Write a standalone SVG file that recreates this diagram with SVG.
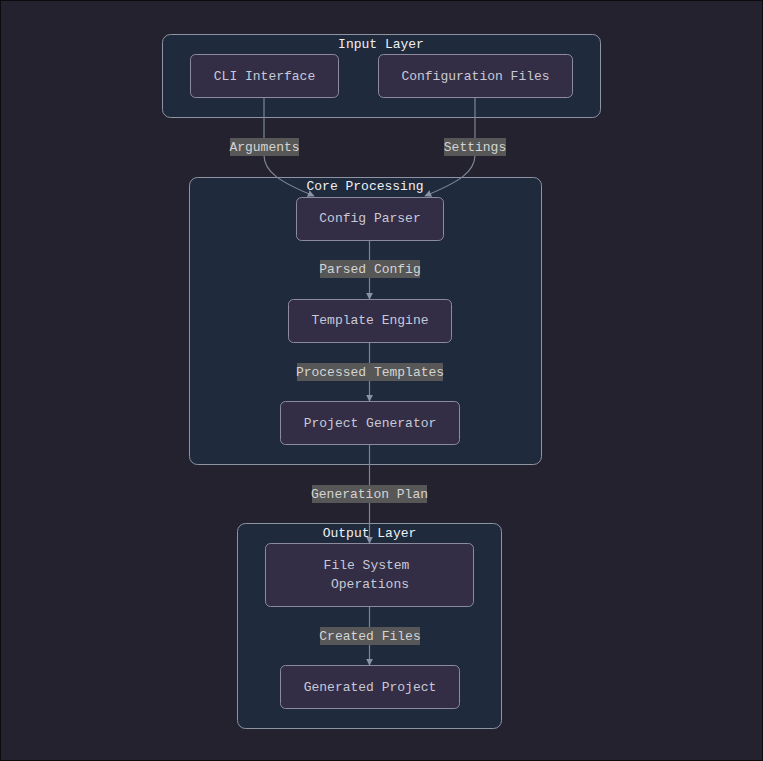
<svg xmlns="http://www.w3.org/2000/svg" width="763" height="761" viewBox="0 0 763 761">
<defs>
<marker id="arr" viewBox="0 0 10 10" refX="9" refY="5" markerWidth="7" markerHeight="7" markerUnits="userSpaceOnUse" orient="auto">
<path d="M0,0 L10,5 L0,10 z" fill="#8a93a8"/>
</marker>
<style>
.cluster{fill:#1f2a3c;stroke:#8e94a4;stroke-width:1}
.node{fill:#332e46;stroke:#8c8c9e;stroke-width:1}
.ctitle{font-family:"Liberation Mono","DejaVu Sans Mono",monospace;font-size:13px;fill:#f0f0f4;text-anchor:middle}
.ntext{font-family:"Liberation Mono","DejaVu Sans Mono",monospace;font-size:13px;fill:#c9c9d6;text-anchor:middle}
.edge{fill:none;stroke:#7c8598;stroke-width:1.2}
.lbg{fill:#575757}
.ltext{font-family:"Liberation Mono","DejaVu Sans Mono",monospace;font-size:13px;fill:#d4d4d4;text-anchor:middle}
</style>
</defs>
<rect x="0.5" y="0.5" width="762" height="760" fill="#25222f" stroke="#0c0c10" stroke-width="1"/>

<g id="input-layer">
<rect class="cluster" x="162.5" y="34.5" width="438" height="83" rx="8"/>
<text class="ctitle" x="381" y="47.5">Input Layer</text>
</g>
<g id="core-processing">
<rect class="cluster" x="189.5" y="177.5" width="352" height="287" rx="8"/>
<text class="ctitle" x="365" y="189.5">Core Processing</text>
</g>
<g id="output-layer">
<rect class="cluster" x="237.5" y="523.5" width="264" height="205" rx="8"/>
<text class="ctitle" x="369.5" y="536.5">Output Layer</text>
</g>

<g id="connectors">
<path class="edge" d="M264,97 L264,155 C264,172 280,182 314,196" marker-end="url(#arr)"/>
<path class="edge" d="M475,97 L475,155 C475,172 459,182 425,196" marker-end="url(#arr)"/>
<path class="edge" d="M369.5,240 L369.5,299" marker-end="url(#arr)"/>
<path class="edge" d="M369.5,342 L369.5,401" marker-end="url(#arr)"/>
<path class="edge" d="M369.5,444 L369.5,543" marker-end="url(#arr)"/>
<path class="edge" d="M369.5,606 L369.5,665" marker-end="url(#arr)"/>
<g id="edge-labels">
<rect class="lbg" x="230" y="138" width="69" height="18"/>
<text class="ltext" x="264.5" y="151">Arguments</text>
<rect class="lbg" x="444" y="138" width="62" height="18"/>
<text class="ltext" x="475" y="151">Settings</text>
<rect class="lbg" x="320" y="260" width="100" height="18"/>
<text class="ltext" x="370" y="273">Parsed Config</text>
<rect class="lbg" x="297" y="363" width="146" height="18"/>
<text class="ltext" x="370" y="376">Processed Templates</text>
<rect class="lbg" x="312" y="485" width="115" height="18"/>
<text class="ltext" x="369.5" y="498">Generation Plan</text>
<rect class="lbg" x="320" y="627" width="100" height="18"/>
<text class="ltext" x="370" y="640">Created Files</text>
</g>
</g>

<g id="cli-interface">
<rect class="node" x="190.5" y="54.5" width="148" height="43" rx="5"/>
<text class="ntext" x="264.5" y="80">CLI Interface</text>
</g>
<g id="configuration-files">
<rect class="node" x="378.5" y="54.5" width="194" height="43" rx="5"/>
<text class="ntext" x="475.5" y="80">Configuration Files</text>
</g>
<g id="config-parser">
<rect class="node" x="296.5" y="197.5" width="147" height="43" rx="5"/>
<text class="ntext" x="370" y="222">Config Parser</text>
</g>
<g id="template-engine">
<rect class="node" x="288.5" y="299.5" width="163" height="43" rx="5"/>
<text class="ntext" x="370" y="324">Template Engine</text>
</g>
<g id="project-generator">
<rect class="node" x="280.5" y="401.5" width="179" height="43" rx="5"/>
<text class="ntext" x="370" y="427">Project Generator</text>
</g>
<g id="file-system-operations">
<rect class="node" x="265.5" y="543.5" width="208" height="63" rx="5"/>
<text class="ntext" x="366.5" y="569">File System</text>
<text class="ntext" x="370" y="588">Operations</text>
</g>
<g id="generated-project">
<rect class="node" x="280.5" y="665.5" width="179" height="43" rx="5"/>
<text class="ntext" x="370" y="691">Generated Project</text>
</g>
</svg>
